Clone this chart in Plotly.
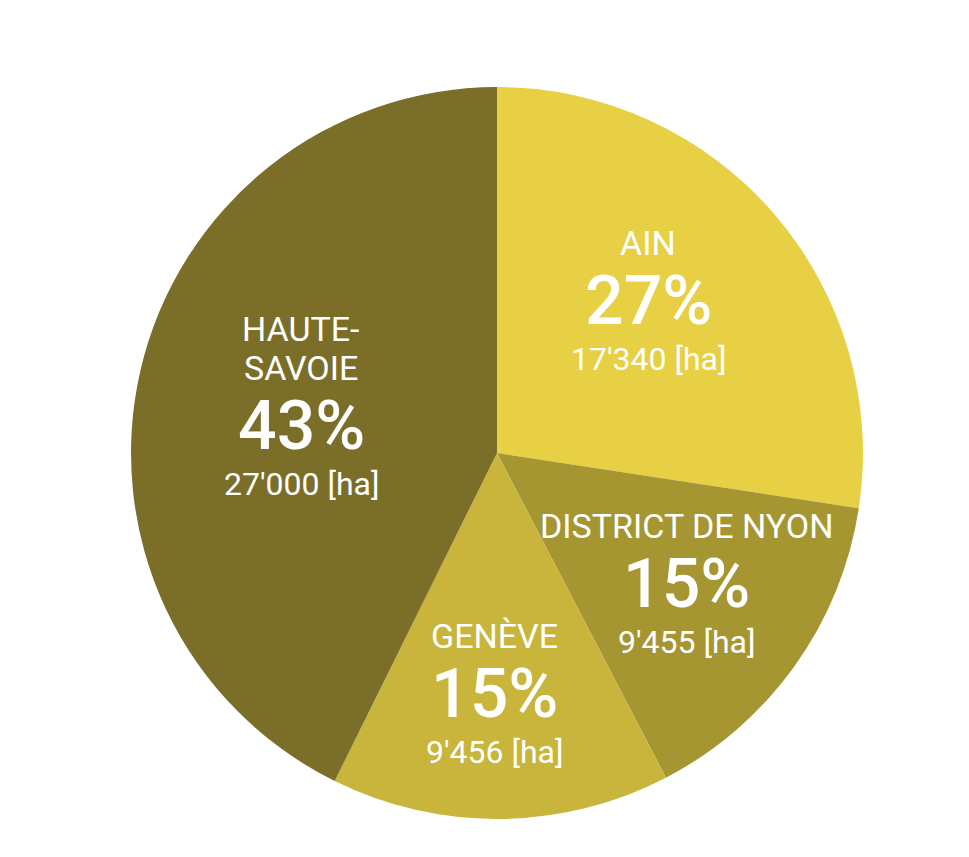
import plotly.graph_objects as go

# data
regions = ["AIN", "DISTRICT DE NYON", "GENÈVE", "HAUTE-SAVOIE"]
label_lines = [["AIN"], ["DISTRICT DE NYON"], ["GENÈVE"], ["HAUTE-", "SAVOIE"]]
areas_ha = [17340, 9455, 9456, 27000]
colors = ["#E8D045", "#A69631", "#C9B53B", "#7A6E28"]

W, H = 969, 857
total = sum(areas_ha)

fig = go.Figure(go.Pie(
    labels=regions, values=areas_ha, sort=False, direction="clockwise",
    rotation=0, marker=dict(colors=colors, line=dict(width=0)),
    textinfo="none", hoverinfo="label+value+percent", showlegend=False,
    domain=dict(x=[123 / W, 855 / W], y=[1 - 811 / H, 1 - 79 / H]),
))

# label anchor (pixel centre x, y of first line) for each slice
anchors = [(640, 235), (678, 518), (486, 628), (293, 321)]

def fmt(v):
    return f"{v:,}".replace(",", "'")

font = "Roboto"
for lines, v, (x, y) in zip(label_lines, areas_ha, anchors):
    rows = [(t, 34, 39, 400) for t in lines[:-1]] + [(lines[-1], 34, 58, 400),
            (f"{round(100 * v / total)}%", 68, 58, 500), (f"{fmt(v)} [ha]", 32, 0, 400)]
    cy = y
    for t, s, step, wt in rows:
        fig.add_annotation(x=x / W, y=1 - cy / H, xref="paper", yref="paper",
                           xanchor="center", yanchor="middle",
                           text=t, showarrow=False,
                           font=dict(family=font, size=s, color="white", weight=wt))
        cy += step

fig.update_layout(width=W, height=H, margin=dict(l=0, r=0, t=0, b=0),
                  paper_bgcolor="white", plot_bgcolor="white")
fig.write_html("out.html")
